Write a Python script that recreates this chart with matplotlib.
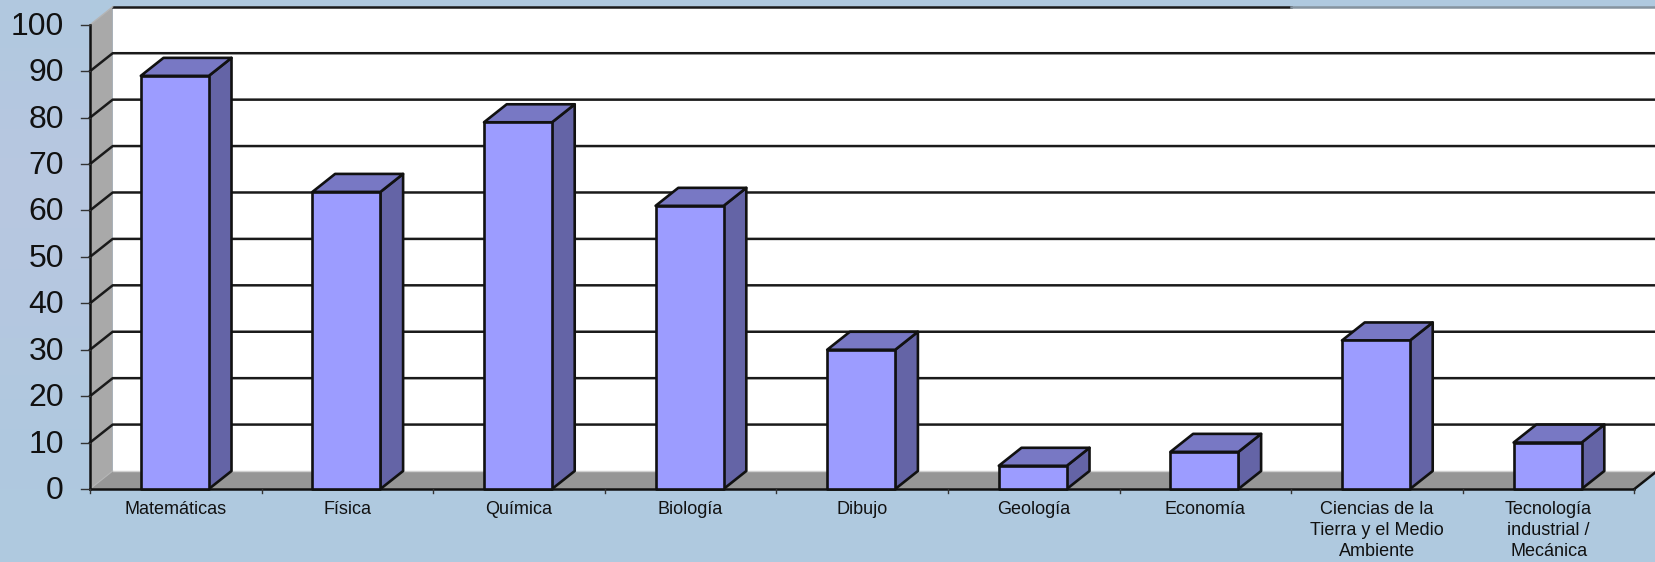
import numpy as np
import matplotlib
matplotlib.use('Agg')
import matplotlib.pyplot as plt
from matplotlib.patches import Polygon

plt.rcParams['font.family'] = ['Liberation Sans', 'DejaVu Sans']

categories = ['Matemáticas', 'Física', 'Química', 'Biología', 'Dibujo', 'Geología',
              'Economía', 'Ciencias de la\nTierra y el Medio\nAmbiente',
              'Tecnología\nindustrial /\nMecánica']
values = [89, 64, 79, 61, 30, 5, 8, 32, 10]
y_ticks = [0, 10, 20, 30, 40, 50, 60, 70, 80, 90, 100]

# pixels per unit in the reference, the axes fill the whole figure
W, H = 1656, 562
px_x = 171.6
px_y = 4.642
x0_px = 90
y0_px = 489

# 3d offset of the depth direction, in data units
dx = 22.7 / px_x
dy = 18 / px_y
bar_w = 68 / px_x
bar_shift = -1 / px_x

fig = plt.figure(figsize=(W / 100, H / 100), dpi=100, facecolor='#AFC9DF')
ax = fig.add_axes([0, 0, 1, 1])
xlim = (-x0_px / px_x, (W - x0_px) / px_x)
ylim = (-(H - y0_px) / px_y, y0_px / px_y)
ax.axis('off')

n = len(categories)
top = y_ticks[-1]
x_end = xlim[1]

# lavender tint in the top left of the background
tint = matplotlib.colors.LinearSegmentedColormap.from_list('t', ['#AFC9DF', '#B8C7E1'])
ax.imshow(np.array([[0.2], [1.0], [0.9], [0.5], [0.0]]), extent=[xlim[0], 0, 0, ylim[1]],
          cmap=tint, vmin=0, vmax=1, aspect='auto', interpolation='bicubic', zorder=0)
ax.set_xlim(xlim)
ax.set_ylim(ylim)

# back wall, side wall, floor
ax.add_patch(Polygon([(dx, dy), (x_end, dy), (x_end, top + dy), (dx, top + dy)],
                     fc='white', ec='none', zorder=1))
ax.add_patch(Polygon([(0, 0), (dx, dy), (dx, top + dy), (0, top)],
                     fc='#A9A9A9', ec='none', zorder=1))
ax.add_patch(Polygon([(0, 0), (n, 0), (n + dx, dy), (dx, dy)],
                     fc='#969696', ec='none', zorder=1))

# grid lines
for v in y_ticks[1:-1]:
    ax.plot([0, dx, x_end], [v, v + dy, v + dy], color='#1A1A1A', lw=1.8, zorder=2)
ax.plot([dx, x_end], [dy, dy], color='#D0D0D0', lw=1, zorder=2)
ax.plot([dx, 7], [top + dy, top + dy], color='#1A1A1A', lw=1.8, zorder=2)
ax.plot([7, x_end], [top + dy, top + dy], color='#85939F', lw=1.8, zorder=2)
ax.plot([0, dx], [top, top + dy], color='#B5B5B5', lw=1, zorder=2)
ax.plot([0, dx], [0, dy], color='#B5B5B5', lw=0.8, zorder=2)

# axes lines and ticks
ax.plot([0, 0], [0, top], color='#111111', lw=1.8, zorder=3)
ax.plot([0, n], [0, 0], color='#111111', lw=1.8, zorder=3)
ax.plot([n, n + dx], [0, dy], color='#111111', lw=1.8, zorder=3)
tick_y = 9 / px_x
for v in y_ticks:
    ax.plot([-tick_y, 0], [v, v], color='#333333', lw=1, zorder=3)
    ax.text(-26 / px_x, v - 2 / px_y, str(v), ha='right', va='center', fontsize=23, color='#111111')
for i in range(n + 1):
    ax.plot([i, i], [0, -4 / px_y], color='#333333', lw=1, zorder=3)

# bars
for i, (cat, v) in enumerate(zip(categories, values)):
    l = i + 0.5 - bar_w / 2 + bar_shift
    r = i + 0.5 + bar_w / 2 + bar_shift
    z = 4 + i
    ax.add_patch(Polygon([(r, 0), (r + dx, dy), (r + dx, v + dy), (r, v)],
                         fc='#6464A6', ec='#111111', lw=1.9, joinstyle='round', zorder=z))
    ax.add_patch(Polygon([(l, v), (l + dx, v + dy), (r + dx, v + dy), (r, v)],
                         fc='#7878C4', ec='#111111', lw=1.9, joinstyle='round', zorder=z))
    ax.add_patch(Polygon([(l, 0), (r, 0), (r, v), (l, v)],
                         fc='#9C9CFF', ec='#111111', lw=1.9, joinstyle='round', zorder=z))
    ax.text(i + 0.5, -12 / px_y, cat, ha='center', va='top', fontsize=13, color='#111111', linespacing=1.3)

fig.savefig('out.png', dpi=100, facecolor=fig.get_facecolor())
